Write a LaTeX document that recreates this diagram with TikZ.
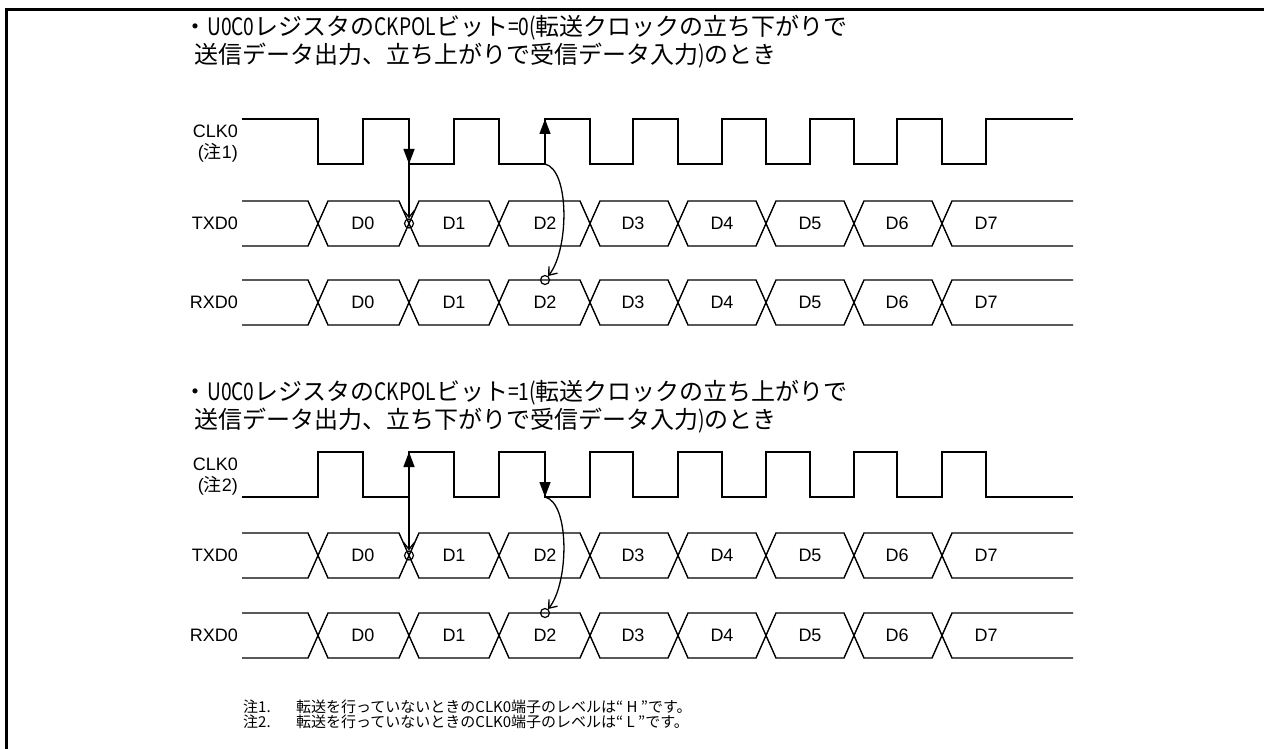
\documentclass[tikz,border=0pt]{standalone}
\usepackage{fontspec}
\setmainfont{Liberation Sans}
\newfontfamily\jp{Noto Sans CJK JP}
\usetikzlibrary{arrows.meta}
\tikzset{
  sig/.style={line width=1.4pt, line join=miter},
  lbl/.style={anchor=east, inner sep=0pt, font=\fontsize{18}{20}\selectfont},
  dlbl/.style={inner sep=0pt, font=\fontsize{18}{20}\selectfont},
  head/.style={anchor=base west, inner sep=0pt, font=\jp\fontsize{24}{26}\selectfont},
  note/.style={anchor=west, inner sep=0pt, font=\jp\fontsize{15}{17}\selectfont},
  ring/.style={circle, draw, line width=1.2pt, inner sep=0pt, minimum size=9pt},
  edgearrow/.style={line width=1.4pt, -{Triangle[length=15pt,width=11pt]}},
  openarrow/.style={line width=1.3pt, -{Straight Barb[length=7pt,width=11pt]}},
}
\newcommand\nar[1]{\scalebox{0.8}[1]{#1}}
\newcommand\busdraw[2]{% top, bottom
  \pgfmathsetmacro\bm{(#1+#2)/2}
  \draw[sig] (242,#1) -- (308,#1) -- (318,\bm) -- (308,#2) -- (242,#2);
  \foreach \a/\b in {318/409,409/499,499/590,590/678,678/766,766/854,854/942}{
    \draw[sig] (\a,\bm) -- (\a+10,#1) -- (\b-10,#1) -- (\b,\bm) -- (\b-10,#2) -- (\a+10,#2) -- cycle;
  }
  \draw[sig] (1073,#1) -- (952,#1) -- (942,\bm) -- (952,#2) -- (1073,#2);
}
\newcommand\buslabels[2]{% mid, name prefix
  \foreach \x [count=\i from 0] in {363,454,545,633,722,810,897,986}{
    \node[dlbl] (#2\i) at (\x,#1) {D\i};
  }
}
\begin{document}
\begin{tikzpicture}[x=1pt,y=-1pt]
\useasboundingbox (0,0) rectangle (1264,749);
% frame
\draw[line width=3pt] (6,760) -- (6,9.5) -- (1270,9.5);

% ---------- panel 1 ----------
\node[head] (h1a) at (183,36) {・\nar{U0C0}レジスタの\nar{CKPOL}ビット\nar{=0(}転送クロックの立ち下がりで};
\node[head] (h1b) at (194,64) {送信データ出力、立ち上がりで受信データ入力\nar{)}のとき};

\node[lbl] (clk1) at (238,131) {CLK0};
\node[lbl] (n1) at (238,153) {({\jp 注}1)};
\node[lbl] (txd1) at (238,223.5) {TXD0};
\node[lbl] (rxd1) at (238,302.5) {RXD0};

\draw[sig] (242,119) -| (318,164) -| (363,119) -| (409,164) -| (454,119) -| (499,164)
  -| (545,119) -| (590,164) -| (633,119) -| (678,164) -| (722,119) -| (766,164)
  -| (810,119) -| (854,164) -| (897,119) -| (942,164) -| (986,119) -- (1073,119);

\busdraw{201}{246}
\buslabels{223.5}{tx1d}
\busdraw{280}{325}
\buslabels{302.5}{rx1d}

\coordinate (a1h) at (409,119);
\coordinate (a1l) at (409,164);
\coordinate (b1h) at (545,119);
\coordinate (b1l) at (545,164);
\node[ring] (c1) at (409,223.5) {};
\node[ring] (r1) at (545,280) {};
\draw[edgearrow] (a1h) -- (a1l);
\draw[openarrow] (a1l) -- (c1);
\draw[edgearrow] (b1l) -- (b1h);
\draw[openarrow] (b1l) .. controls (570,170) and (569,250) .. (r1);

% ---------- panel 2 ----------
\node[head] (h2a) at (183,400) {・\nar{U0C0}レジスタの\nar{CKPOL}ビット\nar{=1(}転送クロックの立ち上がりで};
\node[head] (h2b) at (194,428) {送信データ出力、立ち下がりで受信データ入力\nar{)}のとき};

\node[lbl] (clk2) at (238,464) {CLK0};
\node[lbl] (n2) at (238,486) {({\jp 注}2)};
\node[lbl] (txd2) at (238,555.5) {TXD0};
\node[lbl] (rxd2) at (238,635.5) {RXD0};

\draw[sig] (242,497) -| (318,452) -| (363,497) -| (409,452) -| (454,497) -| (499,452)
  -| (545,497) -| (590,452) -| (633,497) -| (678,452) -| (722,497) -| (766,452)
  -| (810,497) -| (854,452) -| (897,497) -| (942,452) -| (986,497) -- (1073,497);

\busdraw{533}{578}
\buslabels{555.5}{tx2d}
\busdraw{613}{658}
\buslabels{635.5}{rx2d}

\coordinate (a2h) at (409,452);
\coordinate (a2l) at (409,497);
\coordinate (b2h) at (545,452);
\coordinate (b2l) at (545,497);
\node[ring] (c2) at (409,555.5) {};
\node[ring] (r2) at (545,613) {};
\draw[edgearrow] (a2l) -- (a2h);
\draw[openarrow] (a2h) -- (c2);
\draw[edgearrow] (b2h) -- (b2l);
\draw[openarrow] (b2l) .. controls (570,503) and (569,583) .. (r2);

% ---------- notes ----------
\node[note] (m1) at (243,706.5) {注1.};
\node[note] (t1) at (296,706.5) {転送を行っていないときのCLK0端子のレベルは“ H ”です。};
\node[note] (m2) at (243,721.5) {注2.};
\node[note] (t2) at (296,721.5) {転送を行っていないときのCLK0端子のレベルは“ L ”です。};
\end{tikzpicture}
\end{document}
